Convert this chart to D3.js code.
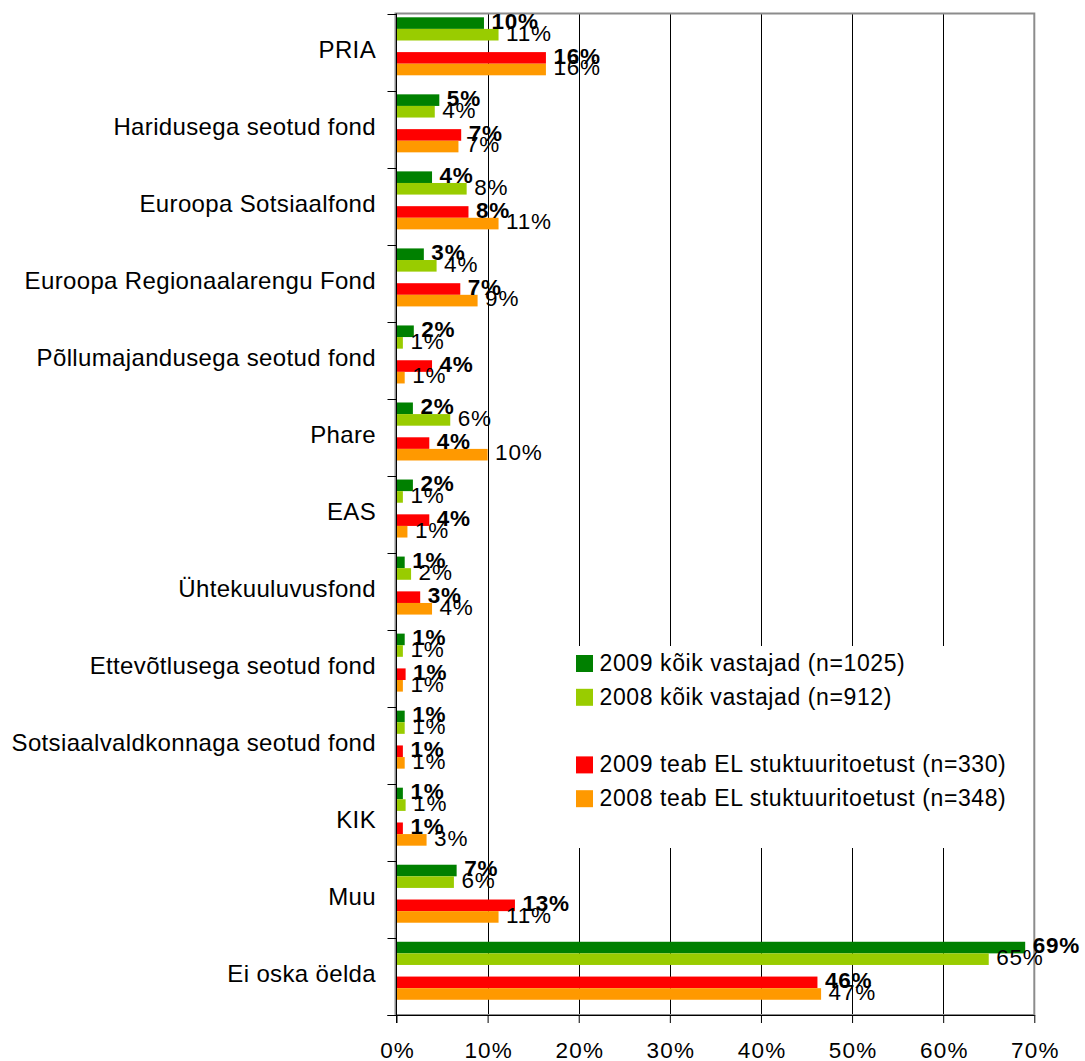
<!DOCTYPE html>
<html>
<head>
<meta charset="utf-8">
<script src="https://cdn.jsdelivr.net/npm/d3@7"></script>
<style>
  html, body { margin: 0; padding: 0; background: #fff; }
  svg { display: block; }
  text { font-family: "Liberation Sans", Arial, sans-serif; fill: #000; }
</style>
</head>
<body>
<div id="chart"></div>
<script>
// categories, top to bottom
var categories = [
    "PRIA",
    "Haridusega seotud fond",
    "Euroopa Sotsiaalfond",
    "Euroopa Regionaalarengu Fond",
    "Põllumajandusega seotud fond",
    "Phare",
    "EAS",
    "Ühtekuuluvusfond",
    "Ettevõtlusega seotud fond",
    "Sotsiaalvaldkonnaga seotud fond",
    "KIK",
    "Muu",
    "Ei oska öelda"
];

// values in percent
var all2009 = [9.6, 4.7, 3.9, 3.0, 1.9, 1.8, 1.8, 0.9, 0.9, 0.9, 0.7, 6.6, 69.0];
var all2008 = [11.2, 4.2, 7.7, 4.4, 0.7, 5.9, 0.7, 1.6, 0.7, 0.9, 1.0, 6.3, 65.0];
var teab2009 = [16.4, 7.1, 7.9, 7.0, 3.9, 3.6, 3.6, 2.6, 1.0, 0.7, 0.7, 13.0, 46.2];
var teab2008 = [16.4, 6.8, 11.2, 8.9, 0.9, 10.0, 1.2, 3.9, 0.7, 0.9, 3.3, 11.2, 46.6];

var seriesNames = [
    "2009 kõik vastajad (n=1025)",
    "2008 kõik vastajad (n=912)",
    null,
    "2009 teab EL stuktuuritoetust (n=330)",
    "2008 teab EL stuktuuritoetust (n=348)"
];
var seriesValues = [all2009, all2008, null, teab2009, teab2008];
var seriesColors = ["#008000", "#99cc00", null, "#ff0000", "#ff9900"];
var seriesBold = [true, false, false, true, false];

var xTicks = [0, 10, 20, 30, 40, 50, 60, 70];

function drawChart() {
    var width = 1085, height = 1061;
    var plot = { left: 396.5, right: 1034.3, top: 13.5, bottom: 1015 };

    var svg = d3.select("#chart").append("svg")
        .attr("width", width)
        .attr("height", height);

    var x = d3.scaleLinear().domain([0, 70]).range([plot.left, plot.right]);
    var y = d3.scaleBand().domain(categories).range([plot.top, plot.bottom]);
    // 5 slots per category, the middle one stays empty
    var slot = d3.scaleBand().domain(d3.range(5)).range([3.8, 61.8]);

    // gridlines
    svg.append("g").selectAll("line")
        .data(xTicks.filter(function(t) { return t > 0 && t < 70; }))
        .enter().append("line")
        .attr("x1", function(d) { return Math.round(x(d)) + 0.5; })
        .attr("x2", function(d) { return Math.round(x(d)) + 0.5; })
        .attr("y1", plot.top)
        .attr("y2", plot.bottom)
        .attr("stroke", "#000")
        .attr("stroke-width", 1);

    // plot area border
    svg.append("rect")
        .attr("x", plot.left - 1)
        .attr("y", plot.top)
        .attr("width", plot.right - plot.left + 1)
        .attr("height", plot.bottom - plot.top)
        .attr("fill", "none")
        .attr("stroke", "#8c8c8c")
        .attr("stroke-width", 2);

    // bars
    var barG = svg.append("g");
    seriesValues.forEach(function(vals, s) {
        if (!vals) return;
        barG.selectAll(".bar" + s)
            .data(vals)
            .enter().append("rect")
            .attr("class", "bar" + s)
            .attr("x", x(0))
            .attr("y", function(d, i) { return y(categories[i]) + slot(s); })
            .attr("width", function(d) { return x(d) - x(0); })
            .attr("height", slot.bandwidth())
            .attr("fill", seriesColors[s]);
    });

    // left axis line and category ticks
    svg.append("line")
        .attr("x1", plot.left).attr("x2", plot.left)
        .attr("y1", plot.top).attr("y2", plot.bottom + 8)
        .attr("stroke", "#000");
    svg.append("g").selectAll("line")
        .data(d3.range(categories.length + 1))
        .enter().append("line")
        .attr("x1", plot.left - 9).attr("x2", plot.left)
        .attr("y1", function(i) { return Math.round(plot.top + i * y.step()) + 0.5; })
        .attr("y2", function(i) { return Math.round(plot.top + i * y.step()) + 0.5; })
        .attr("stroke", "#000");

    var xAxis = d3.axisBottom(x)
        .tickValues(xTicks)
        .tickSize(8)
        .tickSizeOuter(0)
        .tickFormat(function(d) { return d + "%"; });
    var xg = svg.append("g")
        .attr("transform", "translate(0," + plot.bottom + ")")
        .call(xAxis);
    xg.select(".domain").attr("stroke", "#000").attr("d", "M" + (plot.left - 9) + ",0.5H" + plot.right);
    xg.selectAll(".tick line").attr("stroke", "#000");
    xg.selectAll(".tick text")
        .attr("x", 0.6)
        .attr("y", 42.5)
        .attr("dy", null)
        .style("font-size", "22.5px")
        .style("letter-spacing", "1.2px")
        .style("font-family", "'Liberation Sans', Arial, sans-serif")
        .attr("fill", "#000");

    // category labels
    svg.append("g").selectAll("text")
        .data(categories)
        .enter().append("text")
        .attr("x", 376)
        .attr("y", function(d) { return y(d) + y.bandwidth() / 2 + 6; })
        .attr("text-anchor", "end")
        .style("font-size", "24px")
        .style("letter-spacing", "0.35px")
        .text(function(d) { return d; });

    // data labels
    var labelG = svg.append("g");
    seriesValues.forEach(function(vals, s) {
        if (!vals) return;
        labelG.selectAll(".lab" + s)
            .data(vals)
            .enter().append("text")
            .attr("class", "lab" + s)
            .attr("x", function(d) { return x(d) + 7.5; })
            .attr("y", function(d, i) { return y(categories[i]) + slot(s) + slot.bandwidth() / 2 + 5.8; })
            .style("font-size", "22.5px")
            .style("letter-spacing", "0.8px")
            .style("font-weight", seriesBold[s] ? "bold" : "normal")
            .text(function(d) { return Math.round(d) + "%"; });
    });

    // legend
    var legend = svg.append("g");
    legend.append("rect")
        .attr("x", 568).attr("y", 646)
        .attr("width", 452).attr("height", 202)
        .attr("fill", "#fff");
    var rows = legend.selectAll(".row")
        .data(seriesNames)
        .enter().append("g")
        .attr("class", "row")
        .attr("transform", function(d, i) { return "translate(576," + (663.5 + i * 33.8) + ")"; });
    rows.filter(function(d) { return d; }).append("rect")
        .attr("x", 0).attr("y", -8.5)
        .attr("width", 17).attr("height", 17)
        .attr("fill", function(d) { return seriesColors[seriesNames.indexOf(d)]; });
    rows.filter(function(d) { return d; }).append("text")
        .attr("x", 23.5)
        .attr("y", 7.5)
        .style("font-size", "23px")
        .style("letter-spacing", "0.6px")
        .text(function(d) { return d; });
}

drawChart();
</script>
</body>
</html>
